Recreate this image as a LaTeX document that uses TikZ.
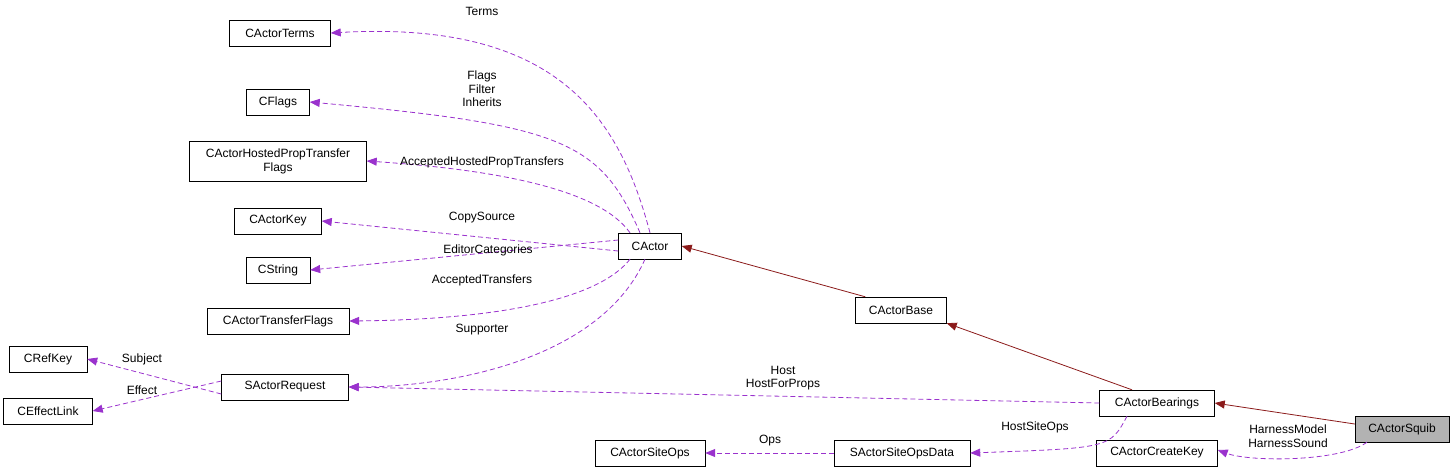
\documentclass[tikz,border=0pt]{standalone}
\usepackage{fontspec}
\setmainfont{Liberation Sans}
\usetikzlibrary{arrows.meta}
\definecolor{dep}{HTML}{9A32CD}
\definecolor{inh}{HTML}{8B1A1A}
\tikzset{
  cls/.style={draw=black,fill=white,inner sep=0pt,minimum height=26pt,align=center,font=\fontsize{12}{14}\selectfont},
  lbl/.style={align=center,inner sep=0pt,font=\fontsize{12}{13.5}\selectfont},
  use/.style={dep,dashed,dash pattern=on 5pt off 3pt,thick,-{Triangle[length=10pt,width=8pt]}},
  base/.style={inh,thick,-{Triangle[length=10pt,width=8pt]}}
}
\begin{document}
\begin{tikzpicture}[x=1pt,y=-1pt]
        \useasboundingbox (0,0) rectangle (1456,472);
        
        %classes
        \node[cls,minimum width=101pt] (terms) at (280,33) {CActorTerms};
        \node[cls,minimum width=63pt] (flags) at (278,102) {CFlags};
        \node[cls,minimum width=177pt,minimum height=40pt] (hosted) at (278,161) {CActorHostedPropTransfer\\Flags};
        \node[cls,minimum width=87pt] (key) at (278,221) {CActorKey};
        \node[cls,minimum width=64pt] (string) at (278,270) {CString};
        \node[cls,minimum width=142pt] (transfer) at (278,321) {CActorTransferFlags};
        \node[cls,minimum width=78pt] (refkey) at (48,359) {CRefKey};
        \node[cls,minimum width=89pt] (effect) at (48,411) {CEffectLink};
        \node[cls,minimum width=127pt] (request) at (285,387) {SActorRequest};
        \node[cls,minimum width=63pt] (actor) at (650,246) {CActor};
        \node[cls,minimum width=91pt] (base) at (901,310) {CActorBase};
        \node[cls,minimum width=115pt] (bearings) at (1157,403) {CActorBearings};
        \node[cls,minimum width=94pt,fill=black!30] (squib) at (1402,429) {CActorSquib};
        \node[cls,minimum width=121pt] (createkey) at (1157,453) {CActorCreateKey};
        \node[cls,minimum width=110pt] (siteops) at (650,453) {CActorSiteOps};
        \node[cls,minimum width=136pt] (siteopsdata) at (902,453) {SActorSiteOpsData};
        
        %inheritance
        \draw[base] (base.north west) ++(10,0) -- (actor.east);
        \draw[base] (bearings.north) ++(-25,0) -- (base.south east);
        \draw[base] (squib.west) ++(0,-5) -- (bearings.east);
        
        %usage from CActor
        \draw[use] (actor.north) .. controls (620,120) and (560,20) .. (terms.east);
        \draw[use] ([xshift=-10pt]actor.north) .. controls (600,140) and (560,125) .. (flags.east);
        \draw[use] ([xshift=-20pt]actor.north) .. controls (600,190) and (500,170) .. (hosted.east);
        \draw[use] ([yshift=-5pt]actor.west) -- (key.east);
        \draw[use] ([yshift=6pt]actor.west) -- (string.east);
        \draw[use] ([xshift=-20pt]actor.south) .. controls (590,310) and (450,320) .. (transfer.east);
        \draw[use] ([xshift=-5pt]actor.south) .. controls (600,360) and (450,387) .. (request.east);
        
        %usage from SActorRequest
        \draw[use] ([yshift=-7pt]request.west) -- (refkey.east);
        \draw[use] ([yshift=6pt]request.west) -- (effect.east);
        
        %usage from CActorBearings
        \draw[use] (bearings.west) -- (request.east);
        \draw[use] ([xshift=-30pt]bearings.south) .. controls (1110,448) .. (siteopsdata.east);
        \draw[use] (siteopsdata.west) -- (siteops.east);
        \draw[use] ([xshift=-35pt]squib.south) .. controls (1340,462) and (1250,462) .. ([yshift=3pt]createkey.east);
        
        %labels
        \node[lbl] (lterms) at (482,11) {Terms};
        \node[lbl] (lflags) at (482,89) {Flags\\Filter\\Inherits};
        \node[lbl] (lhosted) at (482,162) {AcceptedHostedPropTransfers};
        \node[lbl] (lkey) at (482,218) {CopySource};
        \node[lbl] (lstring) at (488,250) {EditorCategories};
        \node[lbl] (ltransfer) at (482,280) {AcceptedTransfers};
        \node[lbl] (lsupporter) at (482,330) {Supporter};
        \node[lbl] (lsubject) at (142,359) {Subject};
        \node[lbl] (leffect) at (142,390) {Effect};
        \node[lbl] (lhost) at (783,378) {Host\\HostForProps};
        \node[lbl] (lops) at (770,441) {Ops};
        \node[lbl] (lhostsite) at (1035,427) {HostSiteOps};
        \node[lbl] (lharness) at (1288,436) {HarnessModel\\HarnessSound};
\end{tikzpicture}
\end{document}
